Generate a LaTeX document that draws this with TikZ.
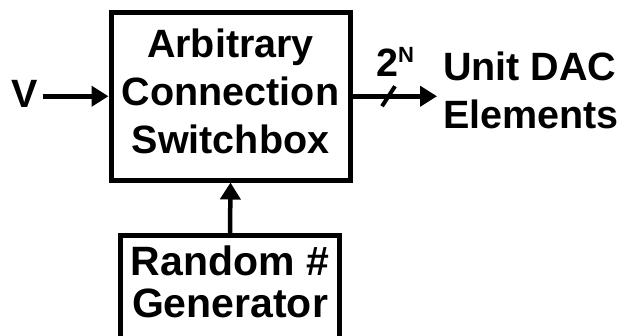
\documentclass[tikz,border=0pt]{standalone}
\usepackage{fontspec}
\setmainfont{Liberation Sans}
\usetikzlibrary{arrows.meta}
\begin{document}
\begin{tikzpicture}[x=1pt,y=-1pt,
  block/.style={draw,rectangle,line width=5pt,inner sep=0pt},
  lbl/.style={font=\bfseries\fontsize{39.5}{48}\selectfont,inner sep=0pt,anchor=base},
  biglbl/.style={lbl,font=\bfseries\fontsize{41}{48}\selectfont},
  flow/.style={line width=4.5pt,-{Triangle[length=17pt,width=20pt]}},
  busmark/.style={line width=4pt}]
  \useasboundingbox (0,0) rectangle (623,335);
  \clip (0,0) rectangle (623,335);

  % switchbox
  \node[block,minimum width=239pt,minimum height=167.5pt] (sw) at (230.5,96.25) {};
  \node[lbl] (swa) at (230.5,57) {Arbitrary};
  \node[lbl] (swb) at (230.5,105) {Connection};
  \node[lbl] (swc) at (230.5,153) {Switchbox};

  % random number generator (runs off the bottom edge)
  \node[block,minimum width=219pt,minimum height=160pt] (rng) at (230,315.5) {};
  \node[biglbl] (rnga) at (230,275) {Random \#};
  \node[biglbl] (rngb) at (230,317) {Generator};

  % input and output labels
  \node[lbl,anchor=base west] (vin) at (11,107) {V};
  \node[lbl,anchor=base west] (ua) at (443,80) {Unit DAC};
  \node[lbl,anchor=base west] (ub) at (443,128) {Elements};
  \node[anchor=base west,inner sep=0pt,font=\bfseries\fontsize{39.5}{40}\selectfont] (bw)
    at (376,76) {2\raisebox{14pt}{\fontsize{22}{22}\selectfont N}};

  % connectors
  \coordinate (vstart) at ([xshift=5pt]vin.east);
  \coordinate (dst) at (437,96.25);
  \coordinate (bus) at (388.5,96.25);
  \draw[flow] (vstart |- sw.west) -- (sw.west);
  \draw[flow] (sw.east) -- (dst);
  \draw[flow] (rng.north) -- (sw.south);
  \draw[busmark] ([shift={(-6.5,10)}]bus) -- ([shift={(6.5,-10)}]bus);
\end{tikzpicture}
\end{document}
